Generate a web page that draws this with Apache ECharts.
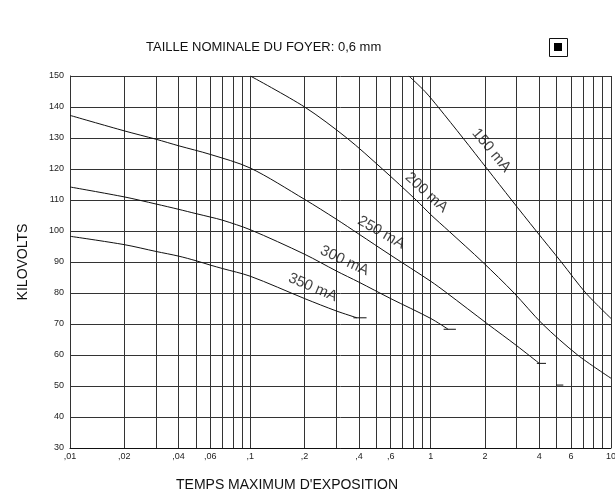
<!DOCTYPE html>
<html>
<head>
<meta charset="utf-8">
<script src="https://cdn.jsdelivr.net/npm/echarts@6/dist/echarts.min.js"></script>
<style>html,body{margin:0;padding:0;background:#fff}#c{width:615px;height:500px}</style>
</head>
<body>
<div id="c"></div>
<script>
// ---- data (time in seconds, kV) ----
const curveNames = ['150 mA', '200 mA', '250 mA', '300 mA', '350 mA'];
const c150 = [[0.757,150],[0.93,145],[1.1,140],[1.51,130],[2.06,120],[2.81,110],[3.85,100],[5.3,90],[7.25,80],[10,71.8]];
const c200 = [[0.1,150],[0.2,140],[0.343,130],[0.54,120],[0.83,110],[1.0,105.3],[1.26,100],[1.94,90],[2.9,80],[4.17,70],[6.53,60],[10,52.5]];
const c250 = [[0.01,137.3],[0.02,132.3],[0.03,129.6],[0.04,127.5],[0.06,124.7],[0.1,120.3],[0.2,110.2],[0.3,103.8],[0.4,99],[0.6,92.2],[1,83.8],[1.23,80],[2.07,70],[3,63],[4.0,57.3]];
const c300 = [[0.01,114.2],[0.02,111],[0.03,108.7],[0.04,107],[0.05,105.6],[0.06,104.5],[0.07,103.5],[0.1,100.4],[0.2,92.5],[0.3,87.1],[0.4,83.5],[0.6,78.2],[1,71.8],[1.25,68.3]];
const c350 = [[0.01,98.3],[0.02,95.6],[0.03,93.4],[0.04,91.9],[0.05,90.4],[0.06,89],[0.07,87.9],[0.1,85.4],[0.2,78.2],[0.3,74.2],[0.39,72]];
// end marks: [tStart, tEnd, kV]
const endDashes = [[0.373,0.441,72],[1.18,1.38,68.3],[3.88,4.36,57.3],[4.97,5.44,50.3]];
// curve label anchors
const labelT = [2.17, 0.947, 0.532, 0.333, 0.222];
const labelKV = [126, 112.4, 99.5, 90.4, 81.8];
const labelAngle = [-50, -42, -30, -25, -23];
// axis grid / tick labels
const xGridValues = [0.01,0.02,0.03,0.04,0.05,0.06,0.07,0.08,0.09,0.1,0.2,0.3,0.4,0.5,0.6,0.7,0.8,0.9,1,2,3,4,5,6,7,8,9,10];
const xTickLabels = [0.01,0.02,0.04,0.06,0.1,0.2,0.4,0.6,1,2,4,6,10];
const xTickTexts = [',01',',02',',04',',06',',1',',2',',4',',6','1','2','4','6','10'];
const yMin = 30, yMax = 150, yStep = 10;

const FONT = '"Liberation Sans", Arial, sans-serif';
const ink = '#111';

const curves = [c150, c200, c250, c300, c350];
const series = curves.map((d, i) => ({
  type: 'line', name: curveNames[i], data: d, symbol: 'none', smooth: 0.3,
  lineStyle: { color: ink, width: 1 }, z: 5, silent: true
}));

series[0].markLine = {
  silent: true, symbol: ['none', 'none'], animation: false,
  lineStyle: { color: '#333', width: 1, type: 'solid' },
  label: { position: 'start', distance: 4, fontSize: 9, color: '#222', fontFamily: FONT },
  data: xGridValues.map(v => {
    const k = xTickLabels.indexOf(v);
    return { xAxis: v, label: k >= 0 ? { show: true, formatter: xTickTexts[k] } : { show: false } };
  })
};

endDashes.forEach(d => {
  series.push({
    type: 'line', data: [[d[0], d[2]], [d[1], d[2]]], symbol: 'none', silent: true,
    lineStyle: { color: ink, width: 1 }, z: 5
  });
});

series.push({
  type: 'scatter', silent: true, symbolSize: 1, itemStyle: { color: 'rgba(0,0,0,0)' }, z: 6,
  data: curveNames.map((n, i) => ({
    value: [labelT[i], labelKV[i]], name: n,
    label: { show: true, position: 'inside', formatter: n, rotate: labelAngle[i],
      fontSize: 15, color: ink, fontFamily: FONT }
  }))
});

const chart = echarts.init(document.getElementById('c'), null, { renderer: 'canvas' });
chart.setOption({
  animation: false,
  backgroundColor: '#fff',
  grid: { left: 70, right: 4, top: 76, bottom: 52 },
  title: [
    { text: 'TAILLE NOMINALE DU FOYER: 0,6 mm', left: 146, top: 41, padding: 0,
      textStyle: { fontSize: 13, fontWeight: 'normal', color: ink, fontFamily: FONT } },
    { text: "TEMPS MAXIMUM D'EXPOSITION", left: 176, top: 478, padding: 0,
      textStyle: { fontSize: 14, fontWeight: 'normal', color: ink, fontFamily: FONT } }
  ],
  xAxis: {
    type: 'log', logBase: 10, min: 0.01, max: 10,
    axisLabel: { show: false }, axisTick: { show: false }, splitLine: { show: false },
    axisLine: { show: true, lineStyle: { color: ink, width: 1 } }
  },
  yAxis: {
    type: 'value', min: yMin, max: yMax, interval: yStep,
    name: 'KILOVOLTS', nameLocation: 'middle', nameGap: 40, nameRotate: 90,
    nameTextStyle: { fontSize: 14, color: ink, fontFamily: FONT },
    axisLabel: { fontSize: 9, color: '#222', margin: 6, fontFamily: FONT },
    axisTick: { show: false },
    axisLine: { show: true, lineStyle: { color: ink, width: 1 } },
    splitLine: { show: true, lineStyle: { color: '#333', width: 1 } }
  },
  graphic: [
    { type: 'rect', left: 549, top: 38, shape: { width: 18, height: 18 },
      style: { fill: '#fff', stroke: ink, lineWidth: 1 } },
    { type: 'rect', left: 554, top: 43, shape: { width: 8, height: 8 },
      style: { fill: '#000' } }
  ],
  series: series
});
</script>
</body>
</html>
